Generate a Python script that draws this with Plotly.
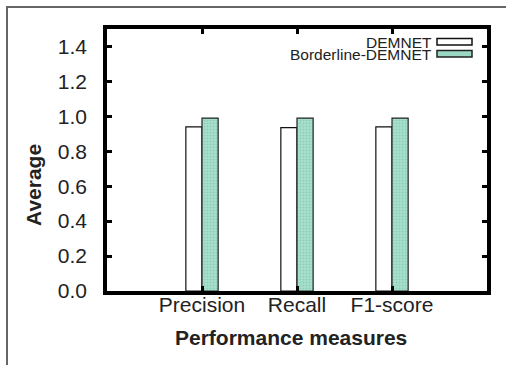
import plotly.graph_objects as go

categories = ["Precision", "Recall", "F1-score"]
demnet = [0.94, 0.935, 0.94]
borderline = [0.99, 0.99, 0.99]
series_names = ["DEMNET", "Borderline-DEMNET"]
y_ticks = [0.0, 0.2, 0.4, 0.6, 0.8, 1.0, 1.2, 1.4]
y_labels = ["0.0", "0.2", "0.4", "0.6", "0.8", "1.0", "1.2", "1.4"]

W, H = 506, 365
L, R, T, B = 107, 19, 29, 74
PW, PH = W - L - R, H - T - B


def px(x):
    return (x - L) / PW


def py(y):
    return (H - B - y) / PH


FONT = "Liberation Sans, Arial, sans-serif"
GREEN = "#9ad8c3"

fig = go.Figure()
fig.add_trace(go.Bar(
    x=categories, y=demnet, name=series_names[0],
    marker=dict(color="white", line=dict(color="#111", width=1.2)),
))
fig.add_trace(go.Bar(
    x=categories, y=borderline, name=series_names[1],
    marker=dict(color=GREEN, line=dict(color="#222", width=1.2),
                pattern=dict(shape=".", fgcolor="#6fbfa5", bgcolor="#a9e0cd",
                             size=3, solidity=0.35)),
))

fig.update_layout(
    width=W, height=H,
    margin=dict(l=L, r=R, t=T, b=B),
    paper_bgcolor="white", plot_bgcolor="white",
    barmode="group", bargap=0.66, bargroupgap=0,
    showlegend=False,
    font=dict(family=FONT, color="#222"),
)
fig.update_xaxes(
    range=[-1, 3], showgrid=False, zeroline=False,
    showline=True, linecolor="black", linewidth=3.5, mirror="ticks",
    ticks="inside", ticklen=5, tickwidth=3, tickcolor="black",
    tickfont=dict(size=21, family=FONT, color="#222"),
    ticklabelstandoff=-8,
)
fig.update_yaxes(
    range=[0, 1.5], showgrid=False, zeroline=False,
    tickvals=y_ticks, ticktext=y_labels,
    showline=True, linecolor="black", linewidth=3.5, mirror="ticks",
    ticks="inside", ticklen=5, tickwidth=3, tickcolor="black",
    tickfont=dict(size=21, family=FONT, color="#222"),
    ticklabelstandoff=12,
)

annotations = [
    dict(text="<b>Performance measures</b>", x=px(291), y=py(337), xref="paper", yref="paper",
         showarrow=False, xanchor="center", yanchor="middle",
         font=dict(size=21, family=FONT, color="#222")),
    dict(text="<b>Average</b>", x=px(33), y=py(185), xref="paper", yref="paper",
         showarrow=False, xanchor="center", yanchor="middle", textangle=-90,
         font=dict(size=21, family=FONT, color="#222")),
    dict(text=series_names[0], x=px(434), y=py(42), xref="paper", yref="paper",
         showarrow=False, xanchor="right", yanchor="middle", height=11,
         font=dict(size=15.5, family=FONT, color="#222")),
    dict(text=series_names[1], x=px(434), y=py(54), xref="paper", yref="paper",
         showarrow=False, xanchor="right", yanchor="middle", height=11,
         font=dict(size=15.5, family=FONT, color="#222")),
]
fig.update_layout(annotations=annotations)

shapes = [
    dict(type="rect", xref="paper", yref="paper", x0=px(437), x1=px(472), y0=py(45), y1=py(38.5),
         fillcolor="white", line=dict(color="#111", width=1.5)),
    dict(type="rect", xref="paper", yref="paper", x0=px(437), x1=px(472), y0=py(57), y1=py(50.5),
         fillcolor=GREEN, line=dict(color="#222", width=1.5)),
    dict(type="line", xref="paper", yref="paper", x0=px(7), x1=px(7), y0=py(7), y1=py(366),
         line=dict(color="#666", width=2)),
    dict(type="line", xref="paper", yref="paper", x0=px(6), x1=px(507), y0=py(7), y1=py(7),
         line=dict(color="#666", width=2)),
]
fig.update_layout(shapes=shapes)

fig.write_html("out.html")
